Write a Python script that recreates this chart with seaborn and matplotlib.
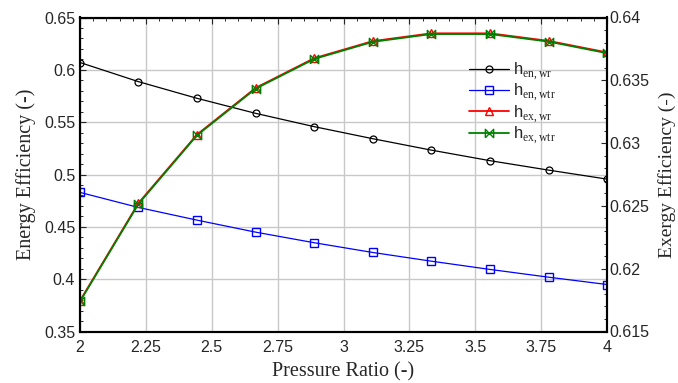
import numpy as np
import seaborn as sns
import matplotlib.pyplot as plt
from matplotlib.ticker import MultipleLocator

# pressure ratio sample points
pressure_ratio = [2.0, 2.222, 2.444, 2.667, 2.889, 3.111, 3.333, 3.556, 3.778, 4.0]

# energy efficiency (left axis)
eta_en_wr = [0.607, 0.5887, 0.5728, 0.5584, 0.5457, 0.5342, 0.5233, 0.5132, 0.5042, 0.4956]
eta_en_wtr = [0.4829, 0.4685, 0.4564, 0.4449, 0.4348, 0.4255, 0.4172, 0.4093, 0.4019, 0.3949]

# exergy efficiency (right axis)
eta_ex_wr = [0.61745, 0.62523, 0.63068, 0.63440, 0.63676, 0.63812, 0.63874, 0.63874, 0.63814, 0.63722]
eta_ex_wtr = [0.61739, 0.62516, 0.63062, 0.63434, 0.63670, 0.63806, 0.63868, 0.63868, 0.63808, 0.63716]

labels = [r'h$_{\mathrm{en,wr}}$', r'h$_{\mathrm{en,wtr}}$',
          r'h$_{\mathrm{ex,wr}}$', r'h$_{\mathrm{ex,wtr}}$']

sns.set_style('white')
plt.rcParams['font.family'] = ['Liberation Sans', 'DejaVu Sans']
plt.rcParams['mathtext.fontset'] = 'custom'
plt.rcParams['mathtext.rm'] = 'Liberation Serif'
plt.rcParams['xtick.direction'] = 'in'
plt.rcParams['ytick.direction'] = 'in'

fig = plt.figure(figsize=(6.78, 3.83), dpi=100)
ax = fig.add_axes([80 / 678, 1 - 331.5 / 383, 527 / 678, 314 / 383])
ax2 = ax.twinx()

bowtie = [(-1, -1), (1, 1), (1, -1), (-1, 1), (-1, -1)]

sns.lineplot(x=pressure_ratio, y=eta_en_wr, ax=ax, color='black', lw=0.9,
             marker='o', markersize=5, markerfacecolor='none',
             markeredgecolor='black', markeredgewidth=0.9, label=labels[0], legend=False)
sns.lineplot(x=pressure_ratio, y=eta_en_wtr, ax=ax, color='#0000ff', lw=0.9,
             marker='s', markersize=6, markerfacecolor='none',
             markeredgecolor='#0000ff', markeredgewidth=1.0, label=labels[1], legend=False)
sns.lineplot(x=pressure_ratio, y=eta_ex_wr, ax=ax2, color='#ff0000', lw=1.3,
             marker='^', markersize=6, markerfacecolor='none',
             markeredgecolor='#ff0000', markeredgewidth=1.0, label=labels[2], legend=False)
sns.lineplot(x=pressure_ratio, y=eta_ex_wtr, ax=ax2, color='#008000', lw=1.3,
             marker=bowtie, markersize=6, markerfacecolor='none',
             markeredgecolor='#008000', markeredgewidth=1.0, label=labels[3], legend=False)

ax.set_xlim(2, 4)
ax.set_ylim(0.35, 0.65)
ax2.set_ylim(0.615, 0.64)
ax.set_xticks([2, 2.25, 2.5, 2.75, 3, 3.25, 3.5, 3.75, 4])
ax.set_xticklabels(['2', '2.25', '2.5', '2.75', '3', '3.25', '3.5', '3.75', '4'])
ax.set_yticks([0.35, 0.4, 0.45, 0.5, 0.55, 0.6, 0.65])
ax.set_yticklabels(['0.35', '0.4', '0.45', '0.5', '0.55', '0.6', '0.65'])
ax2.set_yticks([0.615, 0.62, 0.625, 0.63, 0.635, 0.64])
ax2.set_yticklabels(['0.615', '0.62', '0.625', '0.63', '0.635', '0.64'])
ax.xaxis.set_minor_locator(MultipleLocator(0.05))
ax.yaxis.set_minor_locator(MultipleLocator(0.01))
ax2.yaxis.set_minor_locator(MultipleLocator(0.001))

ax.grid(True, which='major', color='#c8c8c8', lw=1.0)
ax.set_axisbelow(True)
ax.tick_params(axis='x', which='major', labelsize=11.5, length=4, width=0.8,
               top=True, pad=6)
ax.tick_params(axis='y', which='major', labelsize=11.5, length=4, width=0.8, pad=3.5)
ax.tick_params(axis='both', which='minor', length=2.5, width=0.7, top=True)
ax.tick_params(axis='y', which='both', left=True, right=False)
ax2.tick_params(axis='y', which='major', labelsize=11.5, length=4, width=0.8, pad=2)
ax2.tick_params(axis='y', which='minor', length=2.5, width=0.7)

for a in (ax, ax2):
    for s in a.spines.values():
        s.set_color('black')
        s.set_linewidth(1.5)

ax.set_xlabel('Pressure Ratio (-)', family='Liberation Serif', fontsize=14.5, labelpad=5)
ax.set_ylabel('Energy Efficiency (-)', family='Liberation Serif', fontsize=14.5, labelpad=6)
ax2.set_ylabel('Exergy Efficiency (-)', family='Liberation Serif', fontsize=14, labelpad=6)

h1, l1 = ax.get_legend_handles_labels()
h2, l2 = ax2.get_legend_handles_labels()
leg = ax2.legend(h1 + h2, l1 + l2, loc='upper left', bbox_to_anchor=(0.726, 0.885),
                 frameon=False, prop={'family': 'Liberation Sans', 'size': 12},
                 handlelength=2.4, handletextpad=0.2, labelspacing=0.0,
                 borderaxespad=0)

fig.savefig('out.png', dpi=100)
